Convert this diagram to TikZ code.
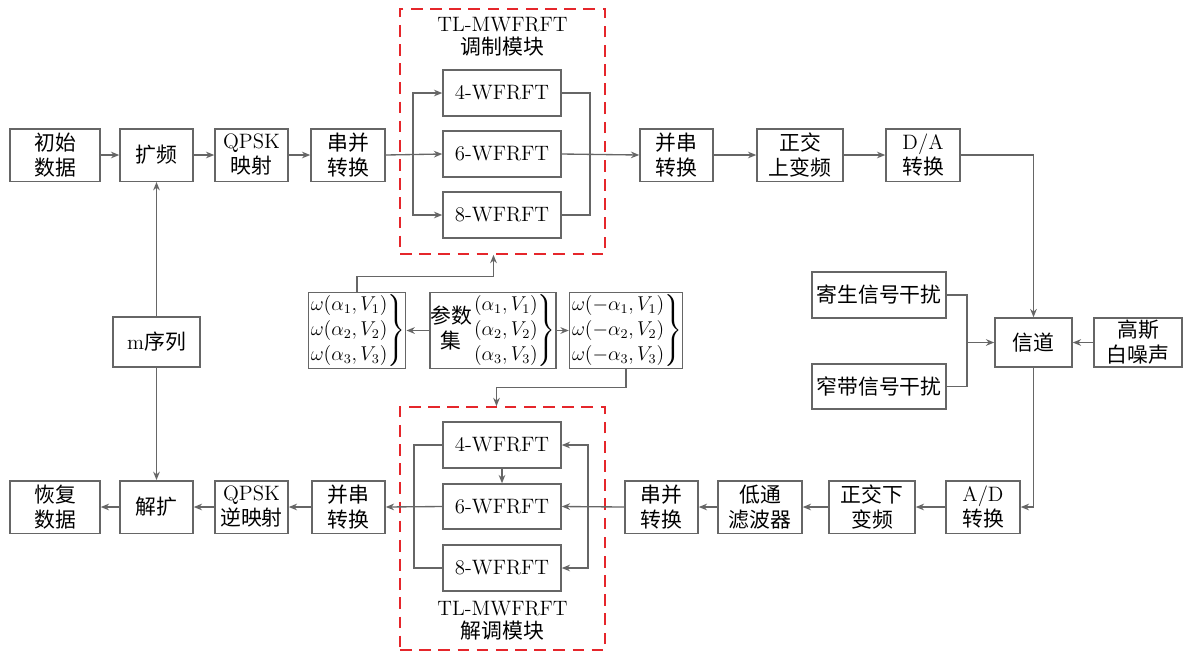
\documentclass[tikz,border=0pt]{standalone}
\usepackage{amsmath}
\usepackage{fontspec}
\newfontfamily\cjk{Noto Sans CJK SC}
\newcommand{\zh}[1]{{\cjk #1}}
\usetikzlibrary{arrows.meta, positioning}
\definecolor{linegray}{HTML}{666666}
\definecolor{dashred}{HTML}{E5262B}
\tikzset{
  box/.style={draw=linegray, line width=0.9pt, fill=white, align=center, inner sep=1pt,
    minimum height=31.5pt, font=\fontsize{12.5}{15}\selectfont},
  bw/.style={minimum width=#1*0.6pt},
  bh/.style={minimum height=#1*0.6pt},
  line/.style={draw=linegray, line width=0.8pt},
  arr/.style={line, -{Stealth[length=5pt,width=4pt]}},
  redbox/.style={draw=dashred, line width=1pt, dash pattern=on 7pt off 4.5pt, inner sep=0pt},
  lbl/.style={align=center, font=\fontsize{12.5}{14}\selectfont},
  mathbox/.style={box, inner sep=0.3pt, font=\fontsize{12}{15}\selectfont}
}
\begin{document}
\begin{tikzpicture}[x=0.6pt, y=-0.6pt]
\useasboundingbox (0,0) rectangle (1184,655);

% TL-MWFRFT frames
\node[redbox, minimum width=123pt, minimum height=147pt] (modbox) at (502.5,131.5) {};
\node[redbox, minimum width=123pt, minimum height=145.8pt] (demodbox) at (502.5,528.5) {};
\node[lbl] (modlbl) at (502.5,37) {TL-MWFRFT\\\zh{调制模块}};
\node[lbl] (demodlbl) at (502.5,621) {TL-MWFRFT\\\zh{解调模块}};

% transmitter
\node[box, bw=90] (init) at (55,155) {\zh{初始}\\\zh{数据}};
\node[box, bw=73] (spread) at (156.5,155) {\zh{扩频}};
\node[box, bw=73] (qpsk) at (251.5,155) {QPSK\\\zh{映射}};
\node[box, bw=74] (sp1) at (348,155) {\zh{串并}\\\zh{转换}};
\node[box, bw=118, bh=46] (m4) at (502,93) {4-WFRFT};
\node[box, bw=118, bh=46] (m6) at (502,154) {6-WFRFT};
\node[box, bw=118, bh=46] (m8) at (502,215) {8-WFRFT};
\node[box, bw=73] (ps1) at (676.5,155) {\zh{并串}\\\zh{转换}};
\node[box, bw=86] (upc) at (800,155) {\zh{正交}\\\zh{上变频}};
\node[box, bw=74] (da) at (923,155) {D/A\\\zh{转换}};

% channel
\node[box, bw=77, bh=49] (ch) at (1033.5,342.5) {\zh{信道}};
\node[box, bw=88, bh=49] (gauss) at (1138,342.5) {\zh{高斯}\\\zh{白噪声}};
\node[box, bw=134, bh=46] (par) at (879,295) {\zh{寄生信号干扰}};
\node[box, bw=134, bh=45] (nar) at (879,386.5) {\zh{窄带信号干扰}};

% receiver
\node[box, bw=74] (ad) at (983,507) {A/D\\\zh{转换}};
\node[box, bw=86] (dnc) at (872,507) {\zh{正交下}\\\zh{变频}};
\node[box, bw=84] (lpf) at (760,507) {\zh{低通}\\\zh{滤波器}};
\node[box, bw=73] (sp2) at (661.5,507) {\zh{串并}\\\zh{转换}};
\node[box, bw=118, bh=46] (d4) at (502,445) {4-WFRFT};
\node[box, bw=118, bh=45] (d6) at (502,506.5) {6-WFRFT};
\node[box, bw=118, bh=46] (d8) at (502,568) {8-WFRFT};
\node[box, bw=73] (ps2) at (348.5,507) {\zh{并串}\\\zh{转换}};
\node[box, bw=73] (iqpsk) at (251.5,507) {QPSK\\\zh{逆映射}};
\node[box, bw=73] (desp) at (156.5,507) {\zh{解扩}};
\node[box, bw=90] (rec) at (55,507) {\zh{恢复}\\\zh{数据}};
\node[box, bw=87, bh=50] (mseq) at (156.5,342) {m\zh{序列}};

% parameter sets
\node[mathbox, bw=96, bh=75] (omL) at (357,330.5)
  {$\left.\begin{matrix}\omega(\alpha_1, V_1)\\ \omega(\alpha_2, V_2)\\ \omega(\alpha_3, V_3)\end{matrix}\right\}$};
\node[mathbox, bw=122, bh=75] (pset) at (493,330.5)
  {{\fontsize{12.5}{15}\selectfont\begin{tabular}{@{}c@{}}\zh{参数}\\\zh{集}\end{tabular}}%
   $\left.\begin{matrix}(\alpha_1, V_1)\\ (\alpha_2, V_2)\\ (\alpha_3, V_3)\end{matrix}\right\}$};
\node[mathbox, bw=104, bh=75] (omR) at (626,330.5)
  {$\left.\begin{matrix}\omega({-\alpha_1}, V_1)\\ \omega({-\alpha_2}, V_2)\\ \omega({-\alpha_3}, V_3)\end{matrix}\right\}$};

% branch points
\coordinate (bs1) at (413,154);
\coordinate (bm1) at (590,154);
\coordinate (bs2) at (588,506.5);
\coordinate (bm2) at (414,506.5);
\coordinate (jn) at (967,342.5);

% transmitter links
\draw[arr] (init) -- (spread);
\draw[arr] (spread) -- (qpsk);
\draw[arr] (qpsk) -- (sp1);
\draw[arr] (sp1.east) -- (m6.west);
\draw[arr] (bs1) |- (m4.west);
\draw[arr] (bs1) |- (m8.west);
\draw[line] (m4.east) -| (bm1) |- (m8.east);
\draw[arr] (m6.east) -- (ps1.west);
\draw[arr] (ps1) -- (upc);
\draw[arr] (upc) -- (da);
\draw[arr] (da.east) -| (ch.north);

% channel links
\draw[line] (par.east) -| (jn) |- (nar.east);
\draw[arr] (jn) -- (ch.west);
\draw[arr] (gauss.west) -- (ch.east);
\draw[arr] (ch.south) |- (ad.east);

% receiver links
\draw[arr] (ad) -- (dnc);
\draw[arr] (dnc) -- (lpf);
\draw[arr] (lpf) -- (sp2);
\draw[arr] (sp2.west) -- (d6.east);
\draw[arr] (bs2) |- (d4.east);
\draw[arr] (bs2) |- (d8.east);
\draw[arr] (d4) -- (d6);
\draw[line] (d4.west) -| (bm2) |- (d8.west);
\draw[arr] (d6.west) -- (ps2.east);
\draw[arr] (ps2) -- (iqpsk);
\draw[arr] (iqpsk) -- (desp);
\draw[arr] (desp) -- (rec);
\draw[arr] (mseq) -- (spread);
\draw[arr] (mseq) -- (desp);

% parameter links
\draw[arr] (pset) -- (omL);
\draw[arr] (pset) -- (omR);
\draw[arr] (omL.north) -- ++(0,-15) -| ([xshift=-5.4pt]modbox.south);
\draw[arr] (omR.south) -- ++(0,18) -| ([xshift=-3.6pt]demodbox.north);
\end{tikzpicture}
\end{document}
